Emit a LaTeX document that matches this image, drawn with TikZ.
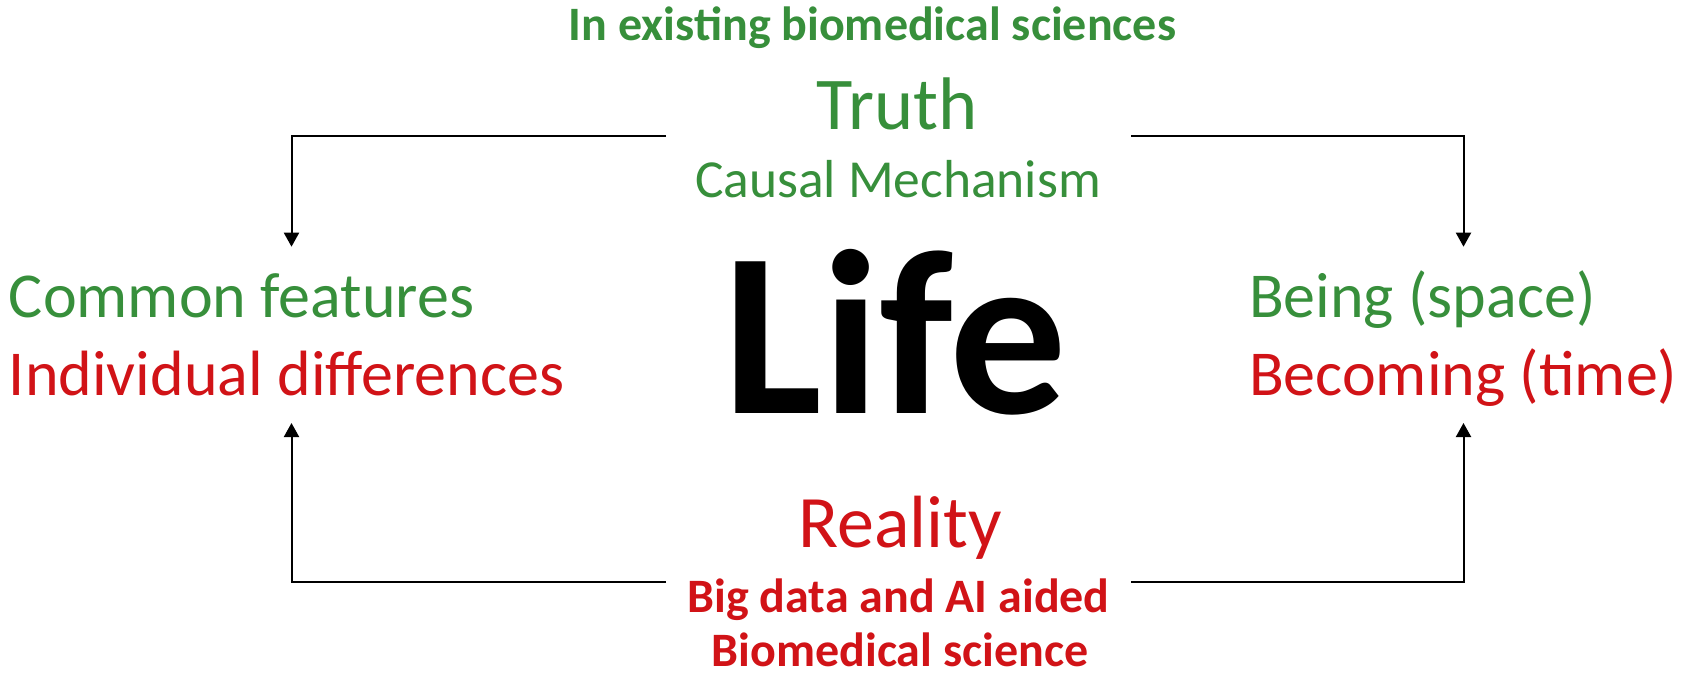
\documentclass[tikz,border=0pt]{standalone}
\usepackage{fontspec}
\setmainfont{Carlito}
\usetikzlibrary{arrows.meta}
\definecolor{tgreen}{RGB}{55,143,59}
\definecolor{tred}{RGB}{209,19,23}
\tikzset{
  txt/.style={inner sep=0pt, outer sep=0pt, anchor=base},
  conn/.style={line width=2pt, black, -{Triangle[width=15pt,length=14pt]}},
}
\newcommand{\fs}[1]{\fontsize{#1}{#1}\selectfont}
\begin{document}
\begin{tikzpicture}[x=1pt,y=-1pt]
\useasboundingbox (0,0) rectangle (1687,674);
\fill[white] (0,0) rectangle (1687,674);
\node[txt, text=tgreen, font=\fs{48}\bfseries] (exist) at (872.5,41) {In existing biomedical sciences};
\node[txt, text=tgreen, font=\fs{74.5}] (truth) at (897,130) {Truth};
\node[txt, text=tgreen, font=\fs{53.5}] (causal) at (898,197) {Causal Mechanism};
\node[txt, text=black, font=\fs{234}\bfseries] (life) at (895.5,413) {Life};
\node[txt, anchor=base west, text=tgreen, font=\fs{64}] (common) at (9,317) {Common features};
\node[txt, anchor=base west, text=tred, font=\fs{64}] (indiv) at (9,395) {Individual differences};
\node[txt, anchor=base west, text=tgreen, font=\fs{64}] (being) at (1249,317) {Being (space)};
\node[txt, anchor=base west, text=tred, font=\fs{64}] (becoming) at (1249,395) {Becoming (time)};
\node[txt, text=tred, font=\fs{74}] (reality) at (900,547) {Reality};
\node[txt, text=tred, font=\fs{48}\bfseries] (bigdata) at (898.5,612.5) {Big data and AI aided};
\node[txt, text=tred, font=\fs{48}\bfseries] (biomed) at (900,666.5) {Biomedical science};
\coordinate (tl) at (666,135.7);
\coordinate (tr) at (1131,135.7);
\coordinate (bl) at (666,581.7);
\coordinate (br) at (1131,581.7);
\coordinate (al) at (291.5,246.7);
\coordinate (ar) at (1463.5,246.7);
\coordinate (ul) at (291.5,423);
\coordinate (ur) at (1463.5,423);
\draw[conn] (tl) -| (al);
\draw[conn] (tr) -| (ar);
\draw[conn] (bl) -| (ul);
\draw[conn] (br) -| (ur);
\end{tikzpicture}
\end{document}
